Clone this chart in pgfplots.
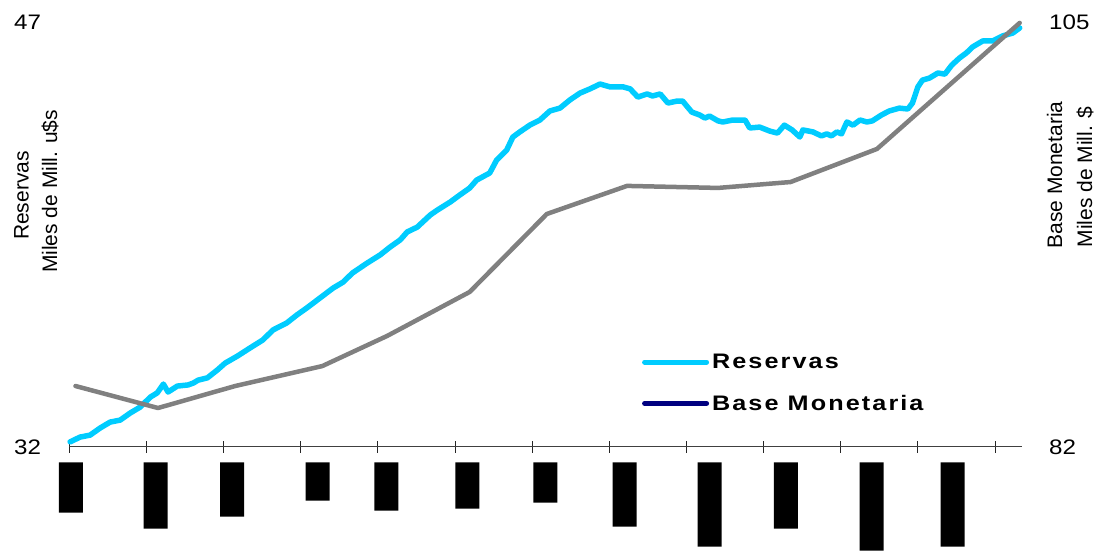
\documentclass[border=0pt]{standalone}
\usepackage{pgfplots}
\pgfplotsset{compat=1.18}
\usepackage{fontspec}
\setmainfont{Liberation Sans}
\newfontfamily\legfont[LetterSpace=10, FakeStretch=1.2]{Liberation Sans}
\newfontfamily\tickfont[FakeStretch=1.15]{Liberation Sans}
\definecolor{cyanR}{HTML}{00CCFF}
\definecolor{grayB}{HTML}{808080}
\definecolor{navyB}{HTML}{000080}
\begin{document}
\begin{tikzpicture}[x=1pt,y=1pt]
\path[use as bounding box] (0,0) rectangle (1100,551);
% Reservas (left axis)
\begin{axis}[
  at={(69.3pt,104pt)}, anchor=south west,
  scale only axis, width=952.7pt, height=425pt,
  xmin=0, xmax=12.35, ymin=32, ymax=47,
  clip=false,
  axis lines*=left,
  y axis line style={draw=none},
  x axis line style={draw=black!75, line width=1pt},
  xtick={0,1,...,12}, xticklabels={},
  xtick align=center, major tick length=12pt,
  xtick style={draw=black!85, line width=1pt},
  ytick={32,47}, yticklabels={32,47},
  ytick style={draw=none},
  /pgf/number format/assume math mode=true,
  yticklabel style={font=\tickfont\fontsize{21}{21}\selectfont, inner sep=0pt, anchor=east, xshift=-28pt},
]
\addplot[cyanR, line width=5.5pt, line join=round, line cap=round] coordinates {
(0.01,32.18) (0.14,32.35) (0.27,32.42) (0.40,32.67) (0.53,32.88) (0.66,32.95)
(0.79,33.20) (0.92,33.41) (1.05,33.76) (1.14,33.91) (1.22,34.22) (1.28,33.94)
(1.40,34.15) (1.54,34.19) (1.61,34.26) (1.67,34.36) (1.79,34.44) (1.92,34.72)
(2.02,34.96) (2.18,35.21) (2.34,35.49) (2.51,35.78) (2.64,36.13) (2.82,36.38)
(2.95,36.66) (3.08,36.91) (3.25,37.26) (3.42,37.61) (3.55,37.82) (3.67,38.14)
(3.86,38.49) (4.03,38.78) (4.16,39.06) (4.29,39.31) (4.38,39.59) (4.51,39.76)
(4.68,40.19) (4.77,40.36) (4.94,40.65) (5.06,40.89) (5.19,41.14) (5.28,41.42)
(5.45,41.67) (5.54,42.13) (5.67,42.48) (5.75,42.94) (5.84,43.12) (5.97,43.36)
(6.10,43.54) (6.23,43.86) (6.36,43.96) (6.49,44.25) (6.62,44.49) (6.75,44.64)
(6.88,44.81) (7.01,44.71) (7.18,44.71) (7.27,44.64) (7.37,44.35) (7.49,44.46)
(7.56,44.39) (7.66,44.46) (7.76,44.14) (7.88,44.21) (7.95,44.21) (8.07,43.82)
(8.17,43.72) (8.24,43.61) (8.30,43.68) (8.41,43.51) (8.47,43.47) (8.60,43.54)
(8.76,43.54) (8.82,43.26) (8.95,43.29) (9.08,43.15) (9.18,43.08) (9.27,43.36)
(9.37,43.19) (9.47,42.94) (9.51,43.19) (9.64,43.12) (9.75,42.98) (9.82,43.05)
(9.88,42.98) (9.95,43.12) (10.01,43.05) (10.08,43.47) (10.16,43.36) (10.25,43.54)
(10.34,43.47) (10.41,43.51) (10.53,43.72) (10.63,43.86) (10.76,43.96) (10.87,43.93)
(10.93,44.14) (11.00,44.71) (11.06,44.95) (11.15,45.02) (11.26,45.20) (11.35,45.16)
(11.44,45.48) (11.54,45.73) (11.63,45.91) (11.71,46.12) (11.84,46.33) (11.97,46.33)
(12.10,46.51) (12.23,46.61) (12.32,46.79)
};
\end{axis}
% Base Monetaria (right axis)
\begin{axis}[
  at={(69.3pt,104pt)}, anchor=south west,
  scale only axis, width=952.7pt, height=425pt,
  xmin=0, xmax=12.35, ymin=82, ymax=105,
  clip=false,
  axis x line=none,
  axis y line*=right,
  y axis line style={draw=none},
  ytick={82,105}, yticklabels={82,105},
  ytick style={draw=none},
  /pgf/number format/assume math mode=true,
  yticklabel style={font=\tickfont\fontsize{21}{21}\selectfont, inner sep=0pt, anchor=west, xshift=27pt},
  legend style={draw=none, fill=none, at={(0.601,0.219)}, anchor=north west,
    inner sep=0pt, row sep=25pt,
    font=\legfont\bfseries\fontsize{21}{21}\selectfont,
    nodes={inner sep=0pt, anchor=west}},
  legend cell align=left,
  legend image code/.code={\draw[#1, line width=5pt, line cap=round] (0pt,0pt) -- (62pt,0pt);},
]
\addplot[grayB, line width=4.5pt, line join=round, line cap=round, forget plot] coordinates {
(0.08,85.30) (1.15,84.11) (2.15,85.30) (3.28,86.38) (4.12,88.01) (5.19,90.39)
(6.19,94.61) (7.23,96.13) (8.41,96.02) (9.35,96.34) (10.47,98.13) (12.32,104.95)
};
\addlegendimage{cyanR}
\addlegendentry{\hspace{3pt}Reservas}
\addlegendimage{navyB}
\addlegendentry{\hspace{3pt}Base Monetaria}
\end{axis}
% hidden tick labels (black blocks)
\begin{axis}[
  at={(69.3pt,0pt)}, anchor=south west,
  scale only axis, width=952.7pt, height=88.5pt,
  xmin=0, xmax=12.35, ymin=-88.5, ymax=0,
  hide axis, clip=false,
  ybar, bar width=24pt,
]
\addplot[fill=black, draw=none] coordinates {
(0.02,-50.2) (1.12,-66.2) (2.11,-54.2) (3.22,-38.2) (4.11,-48.2) (5.16,-46.2)
(6.17,-40.2) (7.20,-64.2) (8.30,-84.2) (9.29,-66.2) (10.40,-88.2) (11.45,-84.2)
};
\end{axis}
\node[rotate=90, font=\fontsize{21}{21}\selectfont] at (21.5,355.5) {Reservas};
\node[rotate=90, font=\fontsize{21}{21}\selectfont] at (50,359.5) {Miles de Mill. u\$s};
\node[rotate=90, font=\fontsize{21}{21}\selectfont] at (1054.5,376) {Base Monetaria};
\node[rotate=90, font=\fontsize{21}{21}\selectfont] at (1085,374) {Miles de Mill. \$};
\end{tikzpicture}
\end{document}
